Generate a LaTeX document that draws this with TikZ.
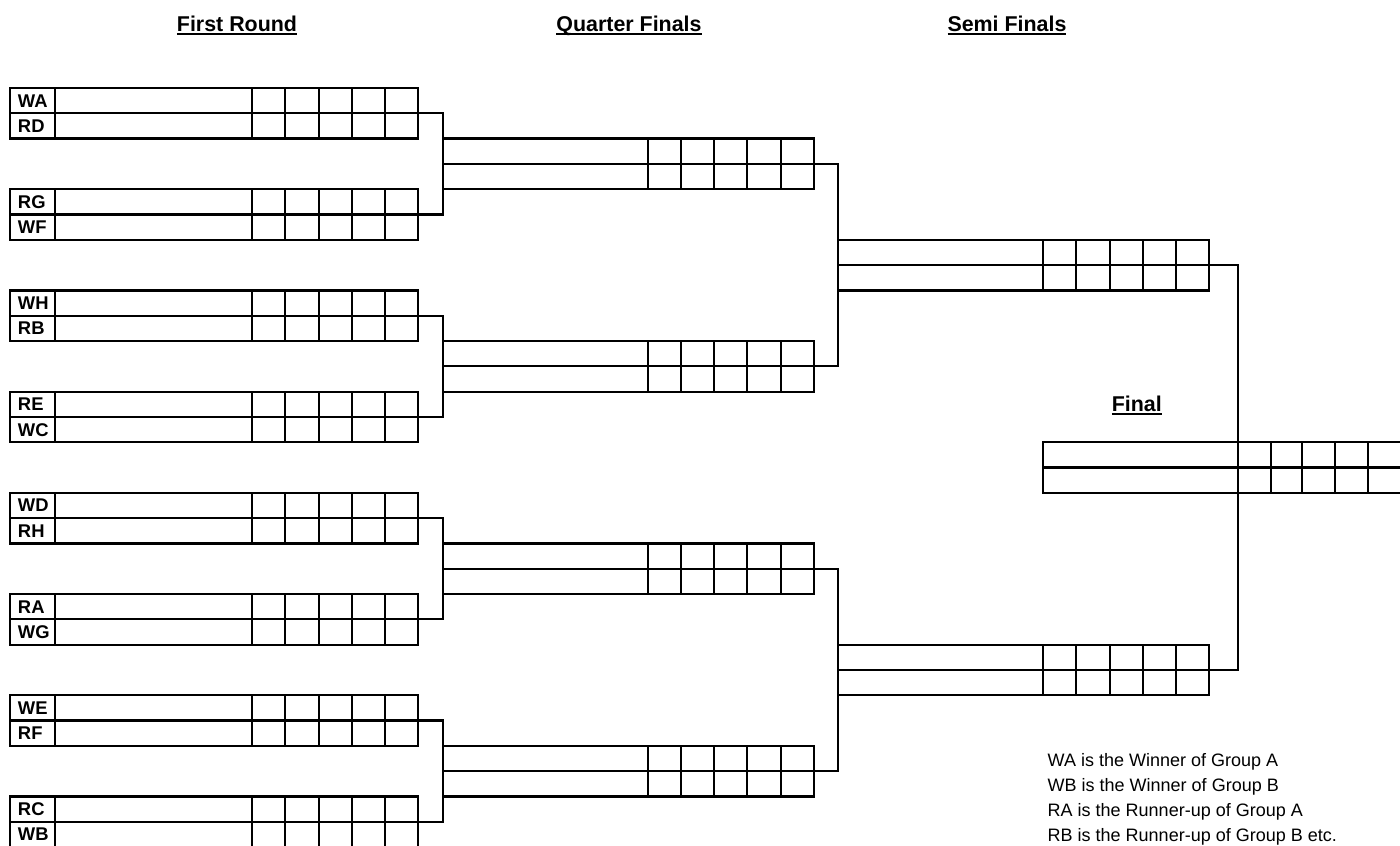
\documentclass[tikz,border=0pt]{standalone}
\usepackage{fontspec}
\setmainfont{Liberation Sans}
\begin{document}
\begin{tikzpicture}[x=0.5pt,y=-0.5pt,line width=1.1pt,
  every node/.style={inner sep=0pt,outer sep=0pt},
  grid/.style={line width=1.1pt,black},
  conn/.style={line width=1.1pt,black},
  teamlab/.style={font=\fontsize{9.2pt}{11pt}\bfseries\selectfont,anchor=west},
  roundtitle/.style={font=\fontsize{10.7pt}{12pt}\bfseries\selectfont,anchor=base},
  legend/.style={font=\fontsize{9pt}{11pt}\selectfont,anchor=base west},
  uline/.style={line width=1pt}]
\useasboundingbox (0,0) rectangle (1400,845);
\def\rh{25.3}
% ---------- titles ----------
\node[roundtitle] (t1) at (237,31.7) {First Round};
\node[roundtitle] (t2) at (629,31.7) {Quarter Finals};
\node[roundtitle] (t3) at (1007,31.7) {Semi Finals};
\node[roundtitle] (t4) at (1136.7,411.7) {Final};
\foreach \t in {t1,t2,t3,t4}
  \draw[uline] ([yshift=-1.3pt]\t.base west) -- ([yshift=-1.3pt]\t.base east);
% ---------- first round ----------
\foreach \r/\la/\lb [count=\n] in {0/WA/RD,4/RG/WF,8/WH/RB,12/RE/WC,16/WD/RH,20/RA/WG,24/WE/RF,28/RC/WB} {
  \pgfmathsetmacro\ya{88+\r*\rh}
  \pgfmathsetmacro\yb{\ya+\rh}
  \pgfmathsetmacro\yc{\ya+2*\rh}
  \draw[grid] (10,\ya) rectangle (418,\yc);
  \draw[grid] (10,\yb) -- (418,\yb);
  \foreach \x in {55,252,285,319,352,385} \draw[grid] (\x,\ya) -- (\x,\yc);
  \node[teamlab] (fra\n) at (18,\ya+12.8) {\la};
  \node[teamlab] (frb\n) at (18,\yb+12.8) {\lb};
  \coordinate (fr\n) at (418,\yb);
}
% ---------- quarter finals ----------
\foreach \r [count=\n] in {2,10,18,26} {
  \pgfmathsetmacro\ya{88+\r*\rh}
  \pgfmathsetmacro\yb{\ya+\rh}
  \pgfmathsetmacro\yc{\ya+2*\rh}
  \draw[grid] (443,\ya) rectangle (814,\yc);
  \draw[grid] (443,\yb) -- (814,\yb);
  \foreach \x in {648,681,714,747,781} \draw[grid] (\x,\ya) -- (\x,\yc);
  \coordinate (qfin\n) at (443,\yb);
  \coordinate (qf\n) at (814,\yb);
}
% ---------- semi finals ----------
\foreach \r [count=\n] in {6,22} {
  \pgfmathsetmacro\ya{88+\r*\rh}
  \pgfmathsetmacro\yb{\ya+\rh}
  \pgfmathsetmacro\yc{\ya+2*\rh}
  \draw[grid] (838,\ya) rectangle (1209,\yc);
  \draw[grid] (838,\yb) -- (1209,\yb);
  \foreach \x in {1043,1076,1110,1143,1176} \draw[grid] (\x,\ya) -- (\x,\yc);
  \coordinate (sfin\n) at (838,\yb);
  \coordinate (sf\n) at (1209,\yb);
}
% ---------- final ----------
\pgfmathsetmacro\fya{88+14*\rh}
\pgfmathsetmacro\fyb{\fya+\rh}
\pgfmathsetmacro\fyc{\fya+2*\rh}
\draw[grid] (1043,\fya) rectangle (1401,\fyc);
\draw[grid] (1043,\fyb) -- (1401,\fyb);
\foreach \x in {1238,1271,1302,1335,1368} \draw[grid] (\x,\fya) -- (\x,\fyc);
\coordinate (fin) at (1238,\fyb);
% ---------- connectors ----------
\draw[conn] (fr1) -- (fr1 -| qfin1) -- (fr2 -| qfin1) -- (fr2);
\draw[conn] (fr3) -- (fr3 -| qfin2) -- (fr4 -| qfin2) -- (fr4);
\draw[conn] (fr5) -- (fr5 -| qfin3) -- (fr6 -| qfin3) -- (fr6);
\draw[conn] (fr7) -- (fr7 -| qfin4) -- (fr8 -| qfin4) -- (fr8);
\draw[conn] (qf1) -- (qf1 -| sfin1) -- (qf2 -| sfin1) -- (qf2);
\draw[conn] (qf3) -- (qf3 -| sfin2) -- (qf4 -| sfin2) -- (qf4);
\draw[conn] (sf1) -- (sf1 -| fin) -- (sf2 -| fin) -- (sf2);
% ---------- legend ----------
\node[legend] (leg1) at (1047.7,766) {WA is the Winner of Group A};
\node[legend] (leg2) at (1047.7,791.25) {WB is the Winner of Group B};
\node[legend] (leg3) at (1047.7,816.5) {RA is the Runner-up of Group A};
\node[legend] (leg4) at (1047.7,841.75) {RB is the Runner-up of Group B etc.};
\end{tikzpicture}
\end{document}
